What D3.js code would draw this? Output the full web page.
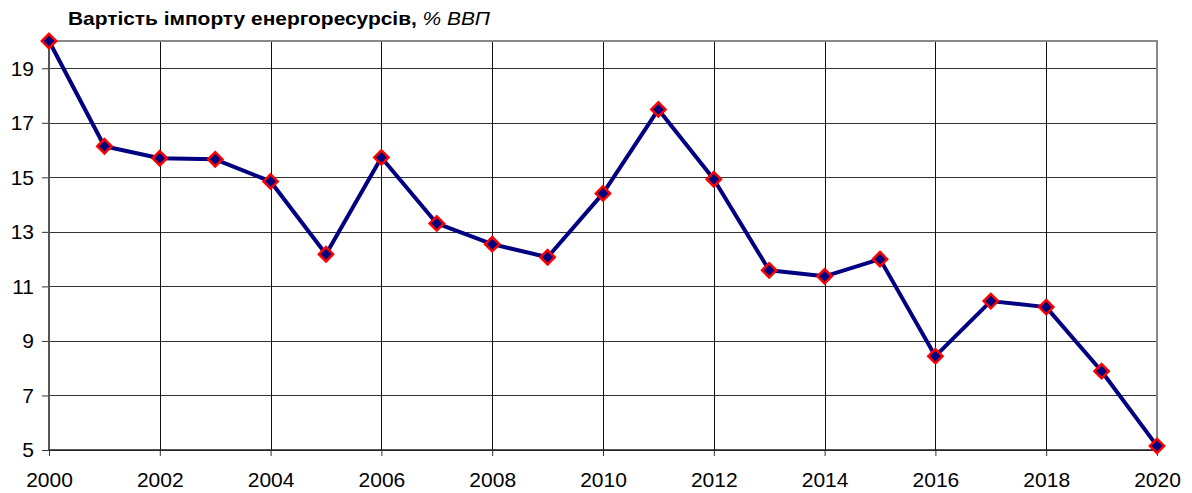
<!DOCTYPE html>
<html><head><meta charset="utf-8">
<script src="https://cdn.jsdelivr.net/npm/d3@7"></script>
<style>body{margin:0;background:#fff}svg{display:block;font-family:"Liberation Sans",Arial,sans-serif}</style>
</head><body><svg id="c" width="1192" height="493"></svg>
<script>
const years = [2000,2001,2002,2003,2004,2005,2006,2007,2008,2009,2010,2011,2012,2013,2014,2015,2016,2017,2018,2019,2020];
const values = [20.0,16.14,15.70,15.66,14.85,12.18,15.73,13.31,12.55,12.07,14.41,17.49,14.93,11.59,11.37,12.0,8.44,10.46,10.24,7.89,5.15];
const yTicks = [5,7,9,11,13,15,17,19];
const xTicks = [2000,2002,2004,2006,2008,2010,2012,2014,2016,2018,2020];
const titleBold = "Вартість імпорту енергоресурсів,";
const titleItalic = " % ВВП";

const svg = d3.select("#c");
const L=49, R=1157, T=41, B=450;
const x = d3.scaleLinear().domain([2000,2020]).range([L,R]);
const y = d3.scaleLinear().domain([5,20]).range([B,T]);

// horizontal grid
svg.append("g").selectAll("line").data(yTicks).join("line")
  .attr("x1",L).attr("x2",R).attr("y1",d=>Math.round(y(d))+0.5).attr("y2",d=>Math.round(y(d))+0.5)
  .attr("stroke","#333").attr("stroke-width",1);
// vertical grid
svg.append("g").selectAll("line").data(xTicks.slice(1,-1)).join("line")
  .attr("x1",d=>Math.round(x(d))+0.5).attr("x2",d=>Math.round(x(d))+0.5).attr("y1",T).attr("y2",B)
  .attr("stroke","#111").attr("stroke-width",1);
// top and right border
svg.append("path").attr("d",`M${L},${T}H${R}V${B}`).attr("fill","none").attr("stroke","#888").attr("stroke-width",2);

// axes
const yAxis = svg.append("g").attr("transform",`translate(${L},0)`)
  .call(d3.axisLeft(y).tickValues(yTicks).tickSize(7).tickPadding(8).tickFormat(d3.format("d")));
const xAxis = svg.append("g").attr("transform",`translate(0,${B})`)
  .call(d3.axisBottom(x).tickValues(xTicks).tickSize(6).tickPadding(16).tickFormat(d3.format("d")));
[yAxis,xAxis].forEach(g=>{
  g.attr("font-size",21).attr("font-family","Liberation Sans, Arial, sans-serif");
  g.select(".domain").remove();
  g.selectAll("text").attr("fill","#000");
  g.selectAll(".tick line").attr("stroke","#333");
});
svg.append("line").attr("x1",L).attr("x2",L).attr("y1",T).attr("y2",B).attr("stroke","#555").attr("stroke-width",2);
svg.append("line").attr("x1",L).attr("x2",R).attr("y1",B).attr("y2",B).attr("stroke","#222").attr("stroke-width",1.5);

// line
const pts = years.map((yr,i)=>[yr,values[i]]);
svg.append("path").datum(pts)
  .attr("d",d3.line().x(d=>x(d[0])).y(d=>y(d[1])))
  .attr("fill","none").attr("stroke","#000080").attr("stroke-width",4).attr("stroke-linejoin","round");
// markers
svg.append("g").selectAll("path").data(pts).join("path")
  .attr("d",d3.symbol().type(d3.symbolDiamond2).size(130))
  .attr("transform",d=>`translate(${x(d[0])},${y(d[1])})`)
  .attr("fill","#000080").attr("stroke","#ff0000").attr("stroke-width",2.5);

// title
const t = svg.append("text").attr("x",68).attr("y",25).attr("font-size",18.5).attr("fill","#000")
  .attr("textLength",422).attr("lengthAdjust","spacingAndGlyphs");
t.append("tspan").attr("font-weight","bold").text(titleBold);
t.append("tspan").attr("font-style","italic").text(titleItalic);
</script></body></html>
